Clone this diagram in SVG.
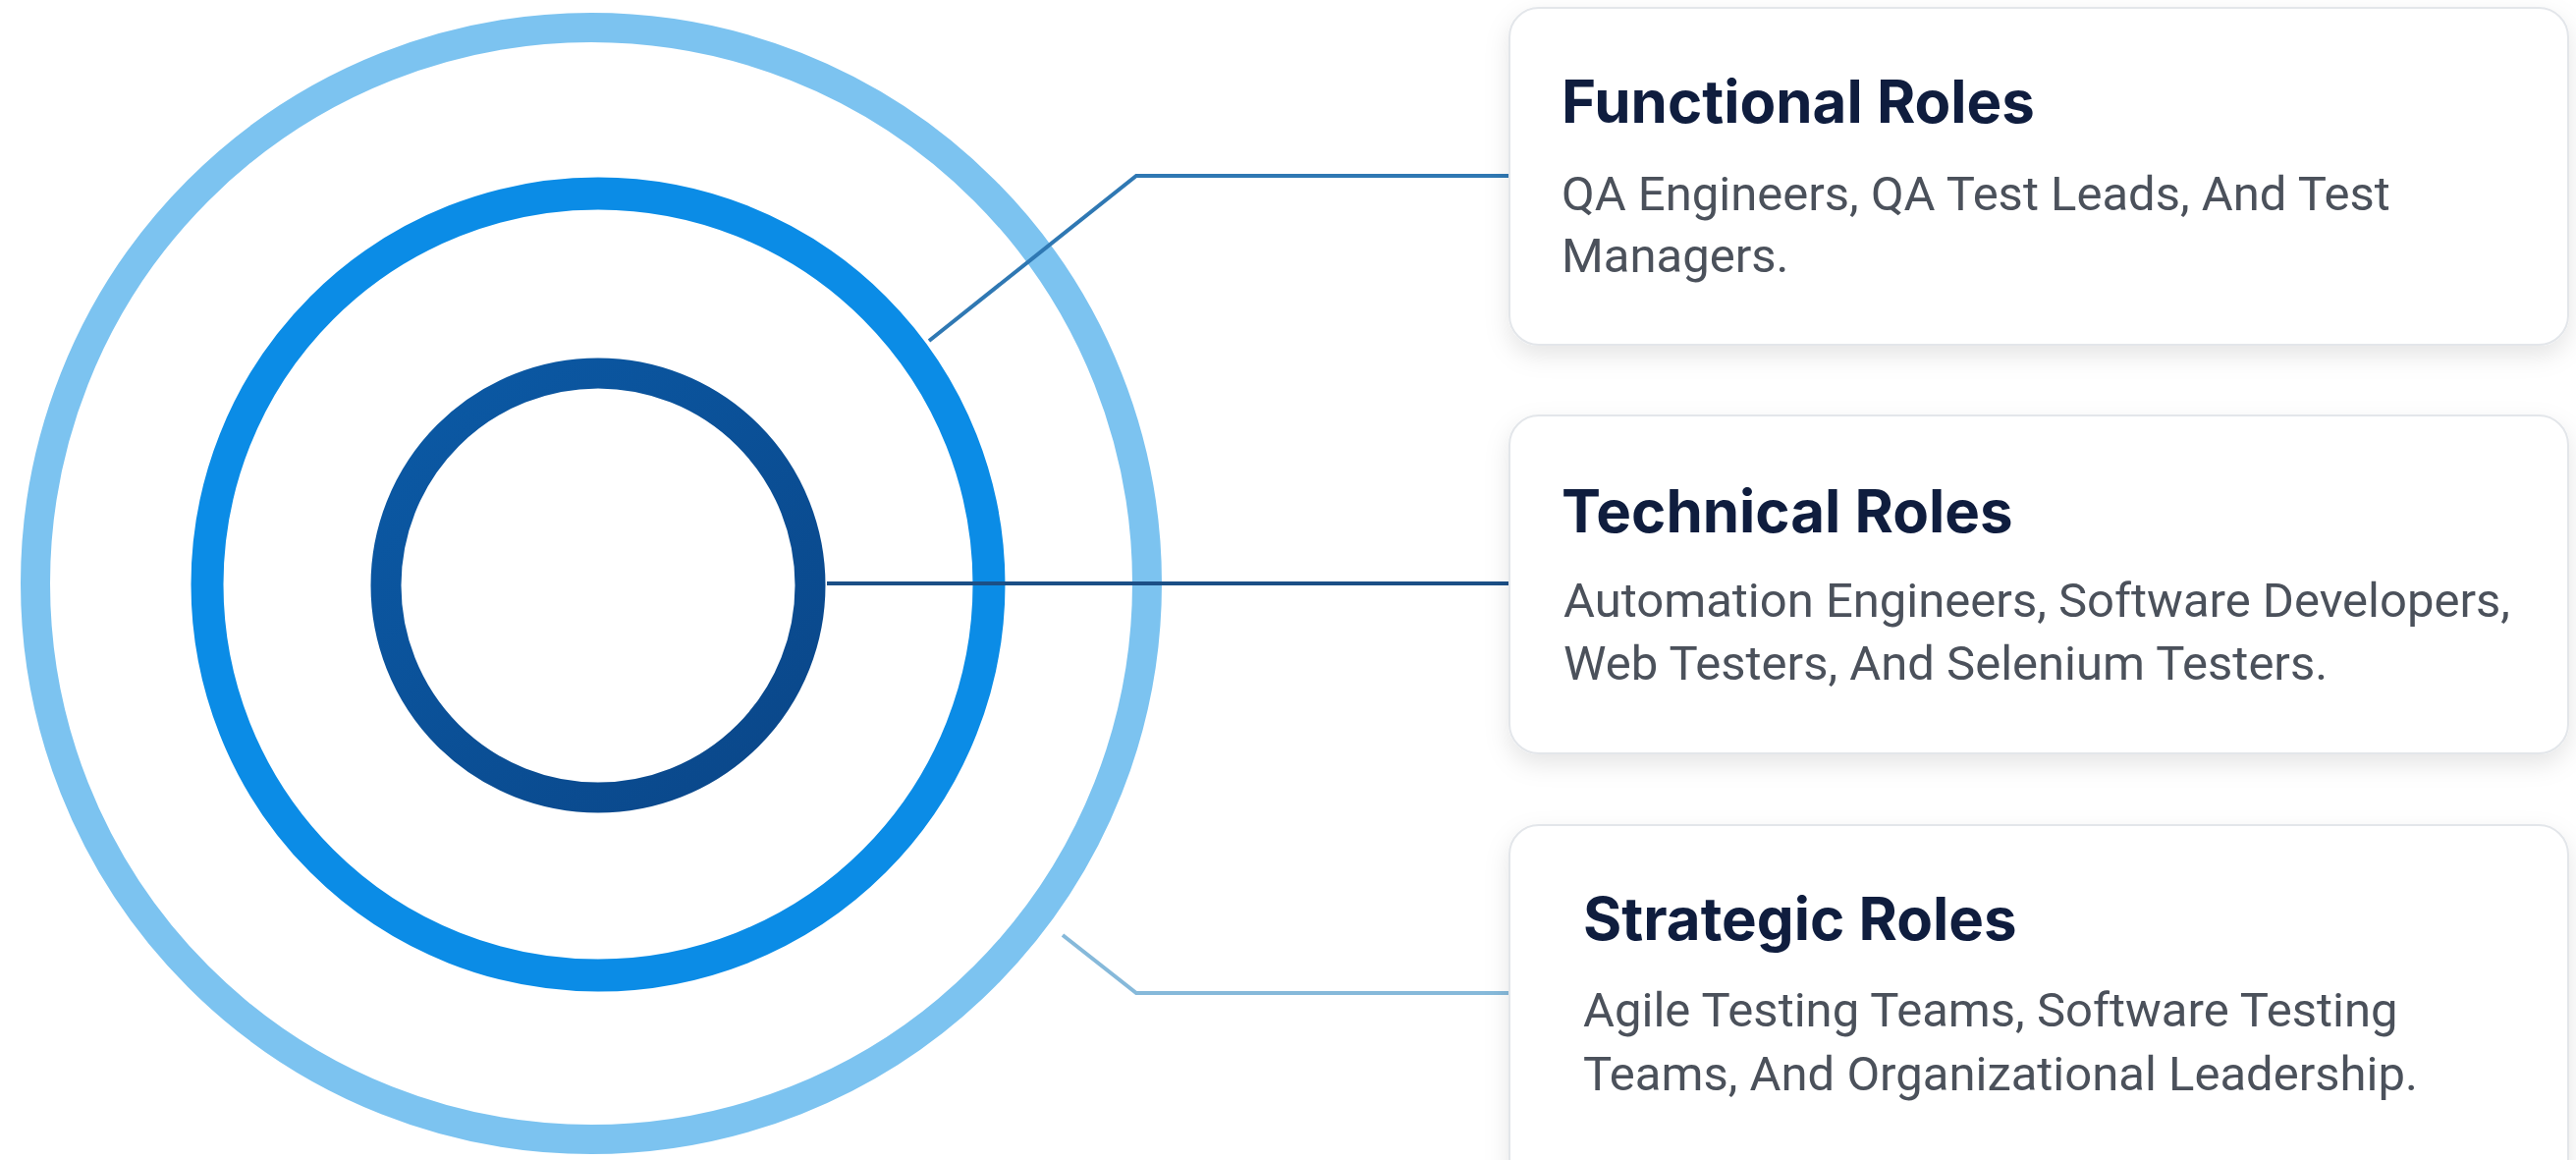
<svg xmlns="http://www.w3.org/2000/svg" width="2623" height="1181" viewBox="0 0 2623 1181">
<style>
.ring{fill:none}
.card{fill:#ffffff;stroke:#e3e6ea;stroke-width:2}
.title{font-family:Inter,"Liberation Sans",sans-serif;font-weight:700;font-size:60px;fill:#0f1d3e}
.body{font-family:Roboto,"Liberation Sans",sans-serif;font-weight:400;font-size:49px;fill:#4b515b}
.conn{fill:none;stroke-width:4;stroke-linejoin:miter}
</style>
<defs>
<filter id="shadow" x="-10%" y="-20%" width="120%" height="150%">
<feDropShadow dx="0" dy="10" stdDeviation="12" flood-color="#000000" flood-opacity="0.10"/>
</filter>
<linearGradient id="innerGrad" x1="0" y1="0" x2="1" y2="1">
<stop offset="0" stop-color="#0b5aa6"/>
<stop offset="1" stop-color="#0a4688"/>
</linearGradient>
</defs>
<rect width="2623" height="1181" fill="#ffffff"/>

<g id="rings">
<circle id="ring-outer" class="ring" cx="602" cy="594" r="566" stroke="#7cc3f0" stroke-width="30"/>
<circle id="ring-middle" class="ring" cx="609" cy="595" r="398" stroke="#0b8ce6" stroke-width="33"/>
<circle id="ring-inner" class="ring" cx="609" cy="596" r="216" stroke="url(#innerGrad)" stroke-width="31"/>
</g>

<g id="connectors">
<polyline class="conn" points="946,347 1157,179 1540,179" stroke="#2f78b3"/>
<line class="conn" x1="842" y1="594" x2="1540" y2="594" stroke="#1b4f86"/>
<polyline class="conn" points="1082,952 1157,1011 1540,1011" stroke="#86b9da"/>
</g>

<g id="card-functional">
<rect class="card" x="1537" y="8" width="1078" height="343" rx="30" filter="url(#shadow)"/>
<text class="title" x="1590" y="125">Functional Roles</text>
<text class="body" x="1590" y="214">QA Engineers, QA Test Leads, And Test</text>
<text class="body" x="1590" y="277">Managers.</text>
</g>

<g id="card-technical">
<rect class="card" x="1537" y="423" width="1078" height="344" rx="30" filter="url(#shadow)"/>
<text class="title" x="1590" y="542">Technical Roles</text>
<text class="body" x="1592" y="628">Automation Engineers, Software Developers,</text>
<text class="body" x="1592" y="692">Web Testers, And Selenium Testers.</text>
</g>

<g id="card-strategic">
<rect class="card" x="1537" y="840" width="1078" height="370" rx="30" filter="url(#shadow)"/>
<text class="title" x="1612" y="957">Strategic Roles</text>
<text class="body" x="1612" y="1045">Agile Testing Teams, Software Testing</text>
<text class="body" x="1612" y="1110">Teams, And Organizational Leadership.</text>
</g>
</svg>
